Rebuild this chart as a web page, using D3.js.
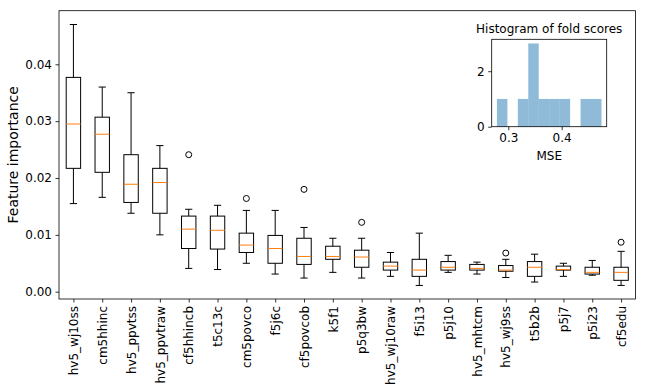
<!DOCTYPE html>
<html>
<head>
<meta charset="utf-8">
<script src="https://cdn.jsdelivr.net/npm/d3@7"></script>
<style>
  body { margin: 0; background: #fff; }
  svg { display: block; font-family: "DejaVu Sans", sans-serif; }
</style>
</head>
<body>
<svg id="chart" width="645" height="392"></svg>
<script>
// ---- Data ----
const categories = ["hv5_wj10ss","cm5hhinc","hv5_ppvtss","hv5_ppvtraw","cf5hhincb","t5c13c","cm5povco","f5j6c","cf5povcob","k5f1","p5q3bw","hv5_wj10raw","f5i13","p5j10","hv5_mhtcm","hv5_wj9ss","t5b2b","p5j7","p5i23","cf5edu"];
const whiskerLow  = [0.0155,0.0166,0.0138,0.0100,0.0041,0.0039,0.0050,0.0031,0.0024,0.0034,0.0024,0.0027,0.0011,0.0034,0.0031,0.0025,0.0017,0.0027,0.0029,0.0011];
const q1          = [0.0217,0.0210,0.0157,0.0138,0.0076,0.0075,0.0069,0.0050,0.0048,0.0057,0.0043,0.0038,0.0027,0.0038,0.0038,0.0036,0.0027,0.0038,0.0031,0.0020];
const medians     = [0.0295,0.0277,0.0189,0.0192,0.0110,0.0108,0.0082,0.0076,0.0062,0.0062,0.0061,0.0045,0.0038,0.0043,0.0041,0.0038,0.0043,0.0039,0.0034,0.0034];
const q3          = [0.0377,0.0307,0.0241,0.0217,0.0133,0.0133,0.0103,0.0099,0.0094,0.0080,0.0073,0.0052,0.0057,0.0053,0.0048,0.0046,0.0053,0.0045,0.0043,0.0043];
const whiskerHigh = [0.0470,0.0360,0.0350,0.0257,0.0145,0.0152,0.0143,0.0143,0.0113,0.0094,0.0094,0.0069,0.0103,0.0064,0.0052,0.0057,0.0066,0.0050,0.0055,0.0071];
const outliers    = [[],[],[],[],[0.0241],[],[0.0164],[],[0.0180],[],[0.0122],[],[],[],[],[0.0068],[],[],[],[0.0087]];
const yTicks = [0, 0.01, 0.02, 0.03, 0.04];

const foldScores = [0.2787, 0.325, 0.342, 0.348, 0.352, 0.365, 0.385, 0.405, 0.445, 0.4746];
const histXTicks = [0.3, 0.4];
const histYTicks = [0, 2];

// ---- Layout ----
const svg = d3.select("#chart");
const M = {left: 59, right: 635.5, top: 10.7, bottom: 299};
const x = d3.scaleLinear().domain([0.5, categories.length + 0.5]).range([M.left, M.right]);
const y = d3.scaleLinear().domain([-0.001284, 0.04943]).range([M.bottom, M.top]);
const boxW = (x(1) - x(0)) * 0.5;
const capW = boxW * 0.5;
const FONT = 12;

const g = svg.append("g");

categories.forEach((c, i) => {
  const cx = x(i + 1);
  const bg = g.append("g");
  bg.append("line").attr("x1", cx).attr("x2", cx).attr("y1", y(q3[i])).attr("y2", y(whiskerHigh[i])).attr("stroke", "#000").attr("stroke-width", 1);
  bg.append("line").attr("x1", cx).attr("x2", cx).attr("y1", y(q1[i])).attr("y2", y(whiskerLow[i])).attr("stroke", "#000").attr("stroke-width", 1);
  [whiskerHigh[i], whiskerLow[i]].forEach(v => {
    bg.append("line").attr("x1", cx - capW / 2).attr("x2", cx + capW / 2).attr("y1", y(v)).attr("y2", y(v)).attr("stroke", "#000").attr("stroke-width", 1);
  });
  bg.append("rect").attr("x", cx - boxW / 2).attr("width", boxW)
    .attr("y", y(q3[i])).attr("height", y(q1[i]) - y(q3[i]))
    .attr("fill", "none").attr("stroke", "#000").attr("stroke-width", 1);
  bg.append("line").attr("x1", cx - boxW / 2).attr("x2", cx + boxW / 2).attr("y1", y(medians[i])).attr("y2", y(medians[i])).attr("stroke", "#ff7f0e").attr("stroke-width", 1);
  outliers[i].forEach(v => {
    bg.append("circle").attr("cx", cx).attr("cy", y(v)).attr("r", 3).attr("fill", "none").attr("stroke", "#000").attr("stroke-width", 1);
  });
});

svg.append("rect").attr("x", M.left).attr("y", M.top).attr("width", M.right - M.left).attr("height", M.bottom - M.top)
  .attr("fill", "none").attr("stroke", "#000").attr("stroke-width", 0.8);

const yAxis = svg.append("g").attr("transform", `translate(${M.left},0)`)
  .call(d3.axisLeft(y).tickValues(yTicks).tickFormat(d3.format(".2f")).tickSize(3.5).tickPadding(3.5).tickSizeOuter(0));
yAxis.select(".domain").remove();
yAxis.selectAll("line").attr("stroke", "#000").attr("stroke-width", 0.8);
yAxis.selectAll("text").attr("font-size", FONT).attr("fill", "#000").attr("font-family", "DejaVu Sans");

const xAxis = svg.append("g").attr("transform", `translate(0,${M.bottom})`)
  .call(d3.axisBottom(x).tickValues(d3.range(1, categories.length + 1)).tickFormat(d => categories[d - 1]).tickSize(3.5).tickSizeOuter(0));
xAxis.select(".domain").remove();
xAxis.selectAll("line").attr("stroke", "#000").attr("stroke-width", 0.8);
xAxis.selectAll("text").attr("font-size", FONT).attr("fill", "#000").attr("font-family", "DejaVu Sans")
  .attr("transform", "rotate(-90)").attr("text-anchor", "end").attr("x", -7).attr("y", 0).attr("dy", "0.35em");

svg.append("text").attr("transform", `translate(18,${(M.top + M.bottom) / 2}) rotate(-90)`)
  .attr("text-anchor", "middle").attr("font-size", 14).attr("fill", "#000").text("Feature importance");

// ---- Inset histogram ----
const I = {left: 491.7, right: 606.7, top: 39.3, bottom: 126.7};
const lo = d3.min(foldScores), hi = d3.max(foldScores);
const nb = 10;
const thresholds = d3.range(1, nb).map(k => lo + k * (hi - lo) / nb);
const bins = d3.bin().domain([lo, hi]).thresholds(thresholds)(foldScores);
const pad = (hi - lo) * 0.05;
const hx = d3.scaleLinear().domain([lo - pad, hi + pad]).range([I.left, I.right]);
const hy = d3.scaleLinear().domain([0, d3.max(bins, b => b.length) * 1.05]).range([I.bottom, I.top]);

const ig = svg.append("g");
ig.selectAll("rect.bar").data(bins.filter(b => b.length > 0)).join("rect")
  .attr("class", "bar")
  .attr("x", b => hx(b.x0)).attr("width", b => hx(b.x1) - hx(b.x0))
  .attr("y", b => hy(b.length)).attr("height", b => hy(0) - hy(b.length))
  .attr("fill", "rgba(31,119,180,0.5)");
ig.append("rect").attr("x", I.left).attr("y", I.top).attr("width", I.right - I.left).attr("height", I.bottom - I.top)
  .attr("fill", "none").attr("stroke", "#000").attr("stroke-width", 0.8);

const hxAxis = ig.append("g").attr("transform", `translate(0,${I.bottom})`)
  .call(d3.axisBottom(hx).tickValues(histXTicks).tickFormat(d3.format(".1f")).tickSize(3.5).tickPadding(3.5).tickSizeOuter(0));
hxAxis.select(".domain").remove();
hxAxis.selectAll("line").attr("stroke", "#000").attr("stroke-width", 0.8);
hxAxis.selectAll("text").attr("font-size", FONT).attr("fill", "#000").attr("font-family", "DejaVu Sans");

const hyAxis = ig.append("g").attr("transform", `translate(${I.left},0)`)
  .call(d3.axisLeft(hy).tickValues(histYTicks).tickFormat(d3.format("d")).tickSize(3.5).tickPadding(3.5).tickSizeOuter(0));
hyAxis.select(".domain").remove();
hyAxis.selectAll("line").attr("stroke", "#000").attr("stroke-width", 0.8);
hyAxis.selectAll("text").attr("font-size", FONT).attr("fill", "#000").attr("font-family", "DejaVu Sans");

ig.append("text").attr("x", (I.left + I.right) / 2).attr("y", 160).attr("text-anchor", "middle")
  .attr("font-size", FONT).attr("fill", "#000").text("MSE");
ig.append("text").attr("x", (I.left + I.right) / 2).attr("y", 33).attr("text-anchor", "middle")
  .attr("font-size", 12).attr("fill", "#000").text("Histogram of fold scores");
</script>
</body>
</html>
